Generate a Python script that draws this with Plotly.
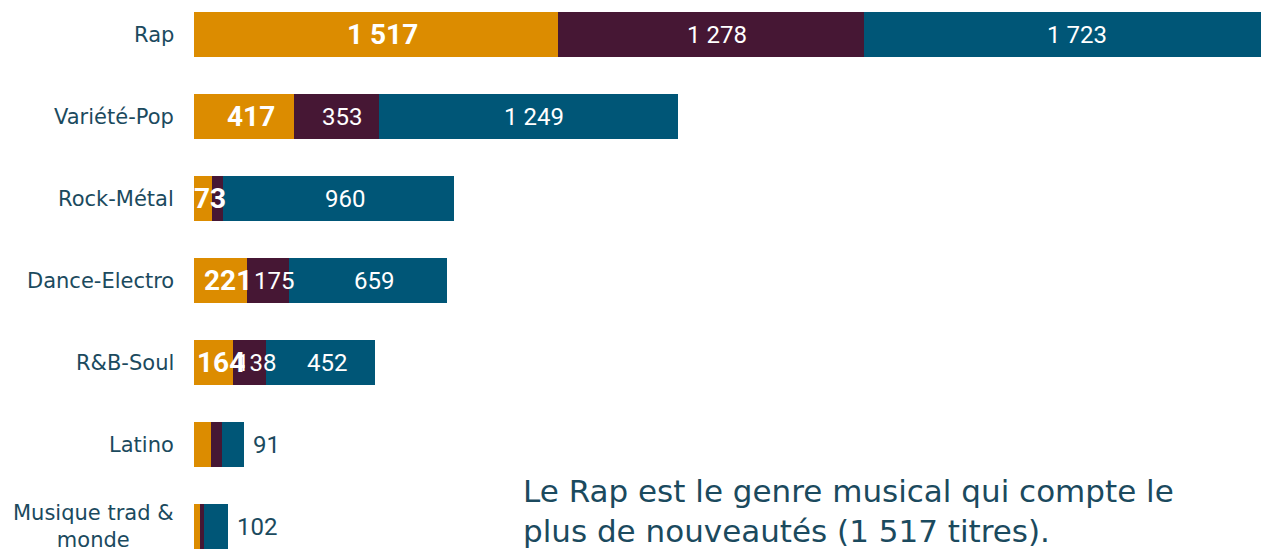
import plotly.graph_objects as go

# ---- data ----
genres = ["Rap", "Variété-Pop", "Rock-Métal", "Dance-Electro", "R&B-Soul",
          "Latino", "Musique trad & monde"]
genre_tick_text = ["Rap", "Variété-Pop", "Rock-Métal", "Dance-Electro", "R&B-Soul",
                   "Latino", "Musique trad &<br>monde"]
serie_1 = [1517, 417, 73, 221, 164, 70, 24]
serie_2 = [1278, 353, 50, 175, 138, 47, 17]
serie_3 = [1723, 1249, 960, 659, 452, 91, 102]
label_1 = [True, True, True, True, True, False, False]
label_2 = [True, True, False, True, True, False, False]
label_3 = ["inside", "inside", "inside", "inside", "inside", "outside", "outside"]
note = "Le Rap est le genre musical qui compte le<br>plus de nouveautés (1 517 titres)."

# ---- style ----
C_ORANGE = "#DC8C00"
C_PURPLE = "#461734"
C_BLUE = "#005677"
C_TEXT = "#1B4A5E"
FONT_LBL = "DejaVu Sans"
FONT_NUM = "Roboto"


def fmt(v):
    return f"{v:,}".replace(",", " ")


fig = go.Figure()
for vals, col, name in [(serie_1, C_ORANGE, "Série 1"),
                        (serie_2, C_PURPLE, "Série 2"),
                        (serie_3, C_BLUE, "Série 3")]:
    fig.add_trace(go.Bar(
        y=genres, x=vals, orientation="h", name=name,
        marker=dict(color=col, line=dict(width=0)),
        showlegend=False, hoverinfo="x+y",
    ))

annotations = []
for i, g in enumerate(genres):
    a, b, c = serie_1[i], serie_2[i], serie_3[i]
    if label_1[i]:
        annotations.append(dict(x=a / 2, y=g, xref="x", yref="y", text=fmt(a),
                                showarrow=False, xshift=7,
                                font=dict(family=FONT_NUM, size=28, color="white", weight="bold")))
    if label_2[i]:
        annotations.append(dict(x=a + b / 2, y=g, xref="x", yref="y", text=fmt(b),
                                showarrow=False, xshift=6,
                                font=dict(family=FONT_NUM, size=24, color="white")))
    if label_3[i] == "inside":
        annotations.append(dict(x=a + b + c / 2, y=g, xref="x", yref="y", text=fmt(c),
                                showarrow=False, xshift=6,
                                font=dict(family=FONT_NUM, size=24, color="white")))
    else:
        annotations.append(dict(x=a + b + c, y=g, xref="x", yref="y", text=fmt(c),
                                showarrow=False, xanchor="left", xshift=7,
                                font=dict(family=FONT_NUM, size=24, color=C_TEXT)))
    annotations.append(dict(x=0, y=g, xref="paper", yref="y", text=genre_tick_text[i],
                            showarrow=False, xanchor="right", xshift=-18, align="center",
                            font=dict(family=FONT_LBL, size=21, color=C_TEXT)))

annotations.append(dict(x=0.3065, y=0.0692, xref="paper", yref="paper", text=note,
                        showarrow=False, xanchor="left", yanchor="middle", align="left",
                        font=dict(family=FONT_LBL, size=31, color=C_TEXT)))

fig.update_layout(
    barmode="stack",
    bargap=0.451,
    width=1261, height=549,
    margin=dict(l=194, r=0, t=0, b=0),
    paper_bgcolor="white", plot_bgcolor="white",
    xaxis=dict(range=[0, 4450], visible=False, fixedrange=True),
    yaxis=dict(type="category", categoryorder="array", categoryarray=genres,
               range=[6.274, -0.4207], showticklabels=False, showgrid=False,
               zeroline=False, showline=False, ticks="", fixedrange=True),
    annotations=annotations,
)

fig.write_html(
    "out.html",
    config={"displayModeBar": False},
    post_script="document.body.style.margin='0';document.body.style.overflow='hidden';",
)
